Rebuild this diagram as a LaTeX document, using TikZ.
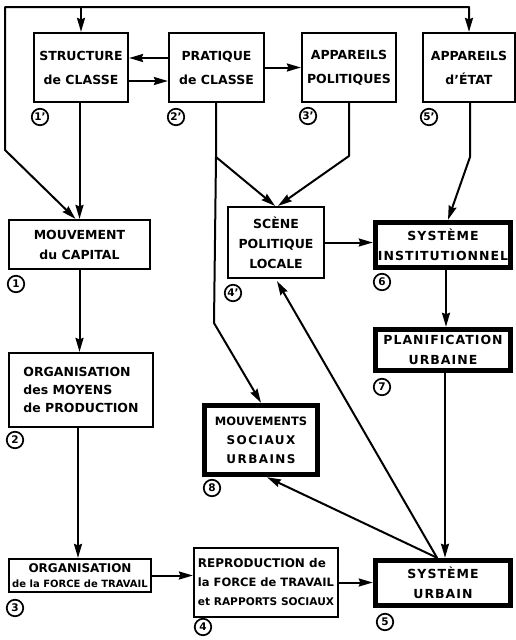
\documentclass[tikz,border=0pt]{standalone}
\usepackage{fontspec}
\setmainfont{DejaVu Sans}
\usetikzlibrary{arrows.meta,calc}
\begin{document}
\begin{tikzpicture}[x=1pt,y=-1pt,
 box/.style={draw, line width=2.2pt, inner sep=0pt, align=center, font=\bfseries\fontsize{12.5}{20}\selectfont},
 topbox/.style={box, font=\bfseries\fontsize{12.5}{24}\selectfont},
 tbox/.style={box, line width=5.5pt, font=\bfseries\fontsize{12.5}{20}\selectfont\addfontfeature{LetterSpace=8}},
 circ/.style={draw, circle, line width=1.7pt, minimum size=16.5pt, inner sep=0pt, font=\bfseries\fontsize{10.5}{10.5}\selectfont},
 arr/.style={line width=2pt, line cap=round, line join=round, -{Stealth[length=14pt,width=8pt,inset=1.5pt]}},
 darr/.style={line width=2pt, line cap=round, line join=round, {Stealth[length=14pt,width=8pt,inset=1.5pt]}-{Stealth[length=14pt,width=8pt,inset=1.5pt]}},
]
\fill[white] (0,0) rectangle (516,640);
\useasboundingbox (0,0) rectangle (516,640);

% top row
\node[topbox, minimum width=94pt, minimum height=69pt] (struct) at (81,67.5) {STRUCTURE\\de CLASSE};
\node[topbox, minimum width=95pt, minimum height=69pt] (prat) at (216.5,67.5) {PRATIQUE\\de CLASSE};
\node[topbox, minimum width=94pt, minimum height=69pt] (appol) at (349,67.5) {APPAREILS\\POLITIQUES};
\node[topbox, minimum width=92pt, minimum height=69pt] (apetat) at (469,67.5) {APPAREILS\\d'ÉTAT};

% left column
\node[box, minimum width=141pt, minimum height=49pt] (mouvcap) at (79.5,244.5) {MOUVEMENT\\du CAPITAL};
\node[box, minimum width=144pt, minimum height=74pt, align=left, font=\bfseries\fontsize{12.5}{18}\selectfont] (orgmoy) at (81,390) {ORGANISATION\\des MOYENS\\de PRODUCTION};
\node[box, minimum width=142pt, minimum height=33pt, font=\bfseries\fontsize{12}{15}\selectfont] (orgforce) at (80,575.5) {ORGANISATION\\{\fontsize{10}{15}\selectfont de la FORCE de TRAVAIL}};

% middle
\node[box, minimum width=96pt, minimum height=71pt] (scene) at (276,242.5) {SCÈNE\\POLITIQUE\\LOCALE};
\node[tbox, minimum width=113pt, minimum height=69pt, font=\bfseries\fontsize{12}{19}\selectfont\addfontfeature{LetterSpace=12}] (mouvsoc) at (261,440) {{\fontsize{11.5}{19}\selectfont\addfontfeature{LetterSpace=0}MOUVEMENTS}\\SOCIAUX\\URBAINS};
\node[box, minimum width=144pt, minimum height=69pt, align=left, font=\bfseries\fontsize{11.5}{19}\selectfont] (repro) at (266,582.5) {{\fontsize{12}{19}\selectfont REPRODUCTION de}\\la FORCE de TRAVAIL\\{\fontsize{10.6}{19}\selectfont et RAPPORTS SOCIAUX}};

% right column
\node[tbox, minimum width=135pt, minimum height=45pt] (systinst) at (443,245) {SYSTÈME\\INSTITUTIONNEL};
\node[tbox, minimum width=135pt, minimum height=41pt] (planif) at (443,350) {PLANIFICATION\\URBAINE};
\node[tbox, minimum width=135pt, minimum height=45pt] (systurb) at (443,583) {SYSTÈME\\URBAIN};

% circled numbers
\node[circ] (c1p) at (40,117) {1'};
\node[circ] (c2p) at (176,117) {2'};
\node[circ] (c3p) at (308,116) {3'};
\node[circ] (c5p) at (429,117) {5'};
\node[circ] (c1) at (16,284) {1};
\node[circ] (c2) at (15,440) {2};
\node[circ] (c3) at (15,608) {3};
\node[circ] (c4) at (203,627) {4};
\node[circ] (c5) at (385,622) {5};
\node[circ] (c8) at (212,488) {8};
\node[circ] (c4p) at (233,293) {4'};
\node[circ] (c6) at (382,282) {6};
\node[circ] (c7) at (382,387) {7};

% coordinates
\coordinate (tl) at (5,7);
\coordinate (bendL) at (5,150);
\coordinate (pbend) at (216,157);
\coordinate (pbend2) at (214,323);
\coordinate (abend) at (349,156);
\coordinate (ebend) at (470,157);
\coordinate (us) at ([xshift=-6pt]systurb.north);

% top distribution line
\draw[darr] (apetat.north) -- (apetat.north |- tl) -- (tl) -- (bendL) -- ([xshift=-4pt]mouvcap.north);
\draw[arr] (struct.north |- tl) -- (struct.north);

% top row links
\draw[arr] ([yshift=9.5pt]prat.west) -- ([yshift=9.5pt]struct.east);
\draw[arr] ([yshift=-13.5pt]struct.east) -- ([yshift=-13.5pt]prat.west);
\draw[arr] (prat.east) -- (appol.west);

% left column
\draw[arr] (struct.south -| mouvcap.north) -- (mouvcap.north);
\draw[arr] (mouvcap.south) -- (mouvcap.south |- orgmoy.north);
\draw[arr] ([xshift=-3pt]orgmoy.south) -- ([xshift=-3pt]orgmoy.south |- orgforce.north);
\draw[arr] (orgforce.east) -- (orgforce.east -| repro.west);
\draw[arr] (repro.east) -- (repro.east -| systurb.west);

% middle
\draw[arr] (prat.south -| pbend) -- (pbend) -- (pbend2) -- (mouvsoc.north);
\draw[arr] (pbend) -- ([xshift=-1pt]scene.north);
\draw[arr] (appol.south) -- (abend) -- ([xshift=2pt]scene.north);
\draw[arr] (apetat.south -| ebend) -- (ebend) -- ([xshift=5pt]systinst.north);
\draw[arr] (scene.east) -- (scene.east -| systinst.west);

% right column
\draw[arr] ([xshift=3pt]systinst.south) -- ([xshift=3pt]planif.north);
\draw[arr] ([xshift=2pt]planif.south) -- ([xshift=2pt]systurb.north);

% feedback from urban system
\draw[arr] (us) -- ([xshift=1pt,yshift=-2pt]scene.south);
\draw[arr] (us) -- ([xshift=6pt]mouvsoc.south);
\end{tikzpicture}
\end{document}
